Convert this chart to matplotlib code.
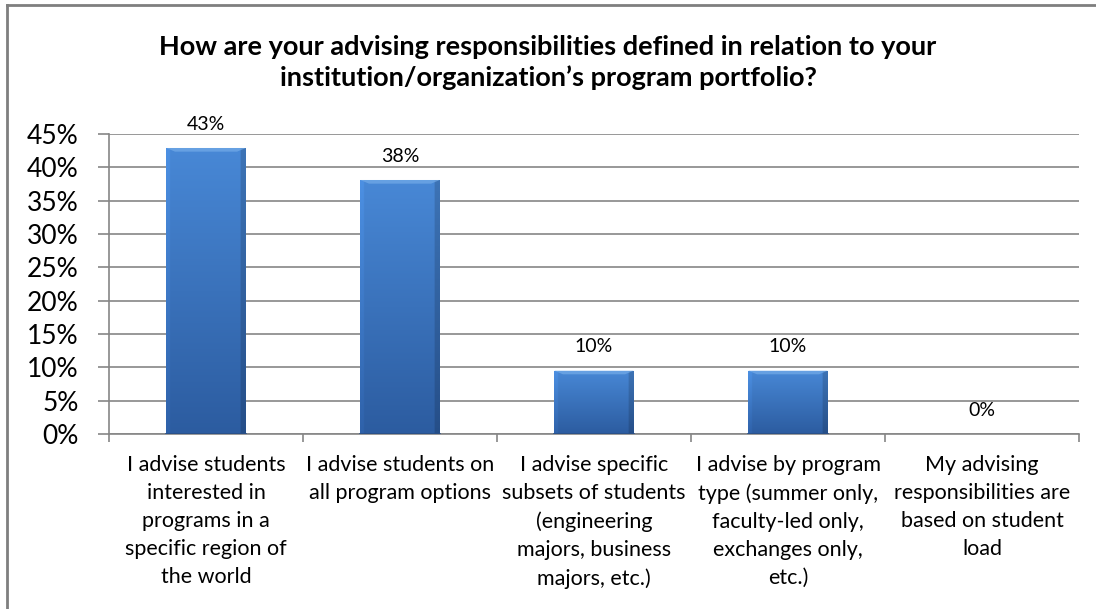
import numpy as np
import matplotlib.pyplot as plt
from matplotlib.lines import Line2D

plt.rcParams["font.family"] = ["Lato", "DejaVu Sans"]

TITLE = ("How are your advising responsibilities defined in relation to your\n"
         "institution/organization\u2019s program portfolio?")
CATEGORIES = [
    "I advise students\ninterested in\nprograms in a\nspecific region of\nthe world",
    "I advise students on\nall program options",
    "I advise specific\nsubsets of students\n(engineering\nmajors, business\nmajors, etc.)",
    "I advise by program\ntype (summer only,\nfaculty-led only,\nexchanges only,\netc.)",
    "My advising\nresponsibilities are\nbased on student\nload",
]
SHARES = [42.9, 38.1, 9.5, 9.5, 0.0]
Y_TICKS = [0, 5, 10, 15, 20, 25, 30, 35, 40, 45]

GRID = "#868686"


def bevel_image(n=200, m=60):
    """RGB array giving a bar a glossy bevelled look."""
    top = np.array([72, 136, 214]) / 255
    bottom = np.array([44, 92, 160]) / 255
    t = np.linspace(0, 1, n)[:, None, None]
    img = top * (1 - t) + bottom * t
    img = np.repeat(img, m, axis=1)
    x = np.linspace(0, 1, m)
    # slightly darker right edge, lighter left edge
    shade = np.ones(m)
    shade[x > 0.94] = 0.85
    shade[x < 0.05] = 1.06
    img = img * shade[None, :, None]
    return np.clip(img, 0, 1)


fig = plt.figure(figsize=(10.96, 6.09), dpi=100)
ax = fig.add_axes([0.0995, 0.2874, 0.885, 0.4926])

x = np.arange(len(CATEGORIES))
bars = ax.bar(x, SHARES, width=0.41, color="none", edgecolor="none", zorder=3)
img = bevel_image()
for b in bars:
    if b.get_height() <= 0:
        continue
    x0, y0 = b.get_x(), b.get_y()
    w, h = b.get_width(), b.get_height()
    im = ax.imshow(img, extent=(x0, x0 + w, y0, y0 + h), aspect="auto",
                   origin="upper", zorder=3, interpolation="bilinear")
    im.set_clip_path(b)
    # light bevel along the top of the bar
    bev = 0.55
    ax.fill([x0, x0 + w, x0 + w - 0.045, x0 + 0.045],
            [y0 + h, y0 + h, y0 + h - bev, y0 + h - bev],
            color="#74ace8", alpha=0.7, lw=0, zorder=4)
    ax.plot([x0, x0 + w], [y0, y0], color="#2a4f85", lw=1.2, zorder=4)

for xi, v in zip(x, SHARES):
    ax.annotate(f"{v:.0f}%", (xi, v), xytext=(0, 11), textcoords="offset points",
                ha="center", va="bottom", fontsize=14, color="black")

ax.set_xlim(-0.5, len(CATEGORIES) - 0.5)
ax.set_ylim(0, 45)
ax.set_yticks(Y_TICKS)
ax.set_yticklabels([f"{t}%" for t in Y_TICKS], fontsize=19)
ax.set_xticks(x)
ax.set_xticklabels(CATEGORIES, fontsize=15.5, linespacing=1.5)
ax.set_xticks(np.arange(len(CATEGORIES) + 1) - 0.5, minor=True)
ax.tick_params(axis="x", which="major", length=0, pad=15)
ax.tick_params(axis="x", which="minor", length=6, color=GRID, width=1.2)
ax.tick_params(axis="y", length=8, color=GRID, width=1.2, pad=14)

ax.yaxis.grid(True, color=GRID, lw=1.2, zorder=0)
ax.set_axisbelow(True)
for side in ("top", "right"):
    ax.spines[side].set_visible(False)
for side in ("left", "bottom"):
    ax.spines[side].set_color(GRID)
    ax.spines[side].set_linewidth(1.2)

fig.text(0.5, 0.897, TITLE, ha="center", va="center", fontsize=19.5,
         fontweight="bold", linespacing=1.3)

# frame around the chart area
fig.add_artist(Line2D([7 / 1096, 7 / 1096], [0, 1 - 5 / 609],
                      transform=fig.transFigure, color="#7f7f7f", lw=2))
fig.add_artist(Line2D([7 / 1096, 1], [1 - 5 / 609, 1 - 5 / 609],
                      transform=fig.transFigure, color="#7f7f7f", lw=2))

fig.savefig("out.png", dpi=100)
